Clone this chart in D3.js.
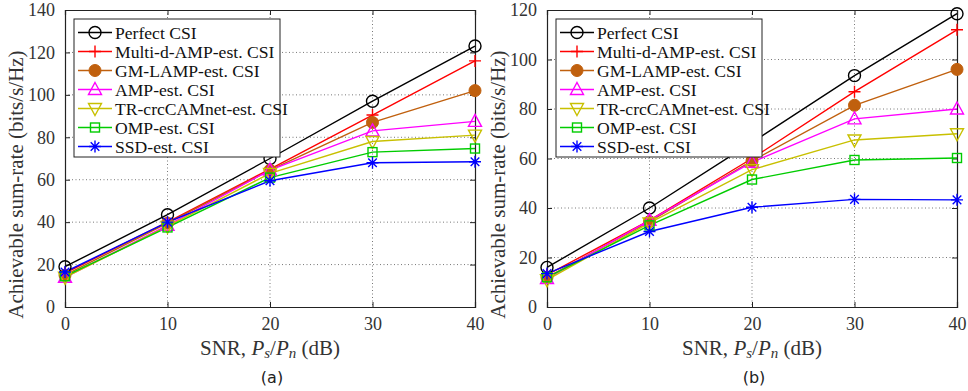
<!DOCTYPE html>
<html>
<head>
<meta charset="utf-8">
<script src="https://cdn.jsdelivr.net/npm/d3@7"></script>
<style>
  body { margin:0; background:#fff; }
  svg text { font-family: "Liberation Serif", serif; }
</style>
</head>
<body>
<svg id="chart" width="968" height="391"></svg>
<script>
// snr points (dB)
var snr = [0, 10, 20, 30, 40];

var seriesNames = ["Perfect CSI", "Multi-d-AMP-est. CSI", "GM-LAMP-est. CSI", "AMP-est. CSI",
                   "TR-crcCAMnet-est. CSI", "OMP-est. CSI", "SSD-est. CSI"];
var seriesColors = ["#000000", "#ff0000", "#c0600e", "#ff00ff", "#c8c000", "#00cc00", "#0000ff"];
var seriesMarkers = ["circle", "plus", "dot", "tri", "tridown", "square", "star"];

// panel (a)
var rateA = [
  [19, 43.5, 70, 97, 123],
  [16, 40, 65, 90.5, 116],
  [15, 39.5, 64.5, 87, 102],
  [14, 38.5, 64.5, 83, 87.5],
  [14, 38, 63, 78, 81],
  [14.5, 37.5, 61, 73, 74.7],
  [16.5, 40, 59.5, 68, 68.5]
];
// panel (b)
var rateB = [
  [16, 40, 66.5, 93.5, 118.5],
  [13, 35, 60, 87, 112],
  [12, 34.5, 59, 81.5, 96],
  [11.5, 35, 58.5, 76, 80],
  [11, 34, 55.5, 67.5, 70],
  [12, 33, 51.5, 59.4, 60.2],
  [13.5, 30.5, 40.3, 43.5, 43.3]
];

var yTicksA = [0, 20, 40, 60, 80, 100, 120, 140];
var yTicksB = [0, 20, 40, 60, 80, 100, 120];
var xTicks = [0, 10, 20, 30, 40];

var svg = d3.select("#chart");

function drawMarker(g, type, color){
    if(type=="circle"){
        g.append("circle").attr("r",6).attr("fill","none").attr("stroke",color).attr("stroke-width",1.4);
    } else if(type=="dot"){
        g.append("circle").attr("r",6).attr("fill",color).attr("stroke",color);
    } else if(type=="plus"){
        g.append("path").attr("d","M-6,0H6M0,-6V6").attr("stroke",color).attr("stroke-width",1.4);
    } else if(type=="tri"){
        g.append("path").attr("d","M0,-7L6.5,5H-6.5Z").attr("fill","none").attr("stroke",color).attr("stroke-width",1.4);
    } else if(type=="tridown"){
        g.append("path").attr("d","M0,7L6.5,-5H-6.5Z").attr("fill","none").attr("stroke",color).attr("stroke-width",1.4);
    } else if(type=="square"){
        g.append("rect").attr("x",-4.5).attr("y",-4.5).attr("width",9).attr("height",9)
            .attr("fill","none").attr("stroke",color).attr("stroke-width",1.4);
    } else if(type=="star"){
        g.append("path").attr("d","M-6,0H6M0,-6V6M-4.3,-4.3L4.3,4.3M-4.3,4.3L4.3,-4.3")
            .attr("stroke",color).attr("stroke-width",1.4);
    }
}

function DrawPanel(left, right, top, bottom, yMax, yTicks, data, caption){
    var x = d3.scaleLinear().domain([0,40]).range([left,right]);
    var y = d3.scaleLinear().domain([0,yMax]).range([bottom,top]);

    var g = svg.append("g");

    // grid
    g.selectAll("xgrid").data(xTicks.slice(1,-1)).enter().append("line")
        .attr("x1",d=>x(d)).attr("x2",d=>x(d)).attr("y1",top).attr("y2",bottom)
        .attr("stroke","#555").attr("stroke-width",0.8).attr("stroke-dasharray","1,2.5");
    g.selectAll("ygrid").data(yTicks.slice(1,-1)).enter().append("line")
        .attr("y1",d=>y(d)).attr("y2",d=>y(d)).attr("x1",left).attr("x2",right)
        .attr("stroke","#555").attr("stroke-width",0.8).attr("stroke-dasharray","1,2.5");

    // axes (inward ticks)
    var xAxis = d3.axisBottom(x).tickValues(xTicks).tickSize(-5).tickPadding(10);
    var yAxis = d3.axisLeft(y).tickValues(yTicks).tickSize(-5).tickPadding(10);
    var xAxisTop = d3.axisTop(x).tickValues(xTicks).tickSize(-5).tickFormat("");
    var yAxisRight = d3.axisRight(y).tickValues(yTicks).tickSize(-5).tickFormat("");

    [g.append("g").attr("transform","translate(0,"+bottom+")").call(xAxis),
     g.append("g").attr("transform","translate("+left+",0)").call(yAxis),
     g.append("g").attr("transform","translate(0,"+top+")").call(xAxisTop),
     g.append("g").attr("transform","translate("+right+",0)").call(yAxisRight)
    ].forEach(function(a){
        a.attr("font-family",null).attr("font-size",null);
        a.select(".domain").attr("stroke","#222").attr("stroke-width",1.2);
        a.selectAll(".tick line").attr("stroke","#222");
        a.selectAll("text").style("font-size","18px").attr("fill","#333")
            .style("font-family","'Liberation Serif', serif");
    });

    // lines + markers
    var line = d3.line().x((d,i)=>x(snr[i])).y(d=>y(d));
    data.forEach(function(vals, s){
        g.append("path").attr("d",line(vals)).attr("fill","none")
            .attr("stroke",seriesColors[s]).attr("stroke-width",1.4);
    });
    data.forEach(function(vals, s){
        vals.forEach(function(v,i){
            var m = g.append("g").attr("transform","translate("+x(snr[i])+","+y(v)+")");
            drawMarker(m, seriesMarkers[s], seriesColors[s]);
        });
    });

    // legend
    var lx = left+9, ly = top+9, lw = 206, lh = 138;
    g.append("rect").attr("x",lx).attr("y",ly).attr("width",lw).attr("height",lh)
        .attr("fill","#fff").attr("stroke","#222").attr("stroke-width",1);
    seriesNames.forEach(function(name, s){
        var yy = ly + 13.5 + s*19;
        g.append("line").attr("x1",lx+4).attr("x2",lx+38).attr("y1",yy).attr("y2",yy)
            .attr("stroke",seriesColors[s]).attr("stroke-width",1.4);
        var m = g.append("g").attr("transform","translate("+(lx+21)+","+yy+")");
        drawMarker(m, seriesMarkers[s], seriesColors[s]);
        g.append("text").attr("x",lx+41).attr("y",yy+6).style("font-size","17.6px").attr("fill","#111").text(name);
    });

    // axis labels
    var xl = g.append("text").attr("x",(left+right)/2).attr("y",bottom+48)
        .attr("text-anchor","middle").style("font-size","21px").attr("fill","#333");
    xl.append("tspan").text("SNR, ");
    xl.append("tspan").attr("font-style","italic").text("P");
    xl.append("tspan").attr("font-style","italic").style("font-size","15px").attr("dy",3).text("s");
    xl.append("tspan").attr("dy",-3).text("/");
    xl.append("tspan").attr("font-style","italic").text("P");
    xl.append("tspan").attr("font-style","italic").style("font-size","15px").attr("dy",3).text("n");
    xl.append("tspan").attr("dy",-3).text(" (dB)");

    g.append("text").attr("transform","translate("+(left-42)+","+((top+bottom)/2+26)+") rotate(-90)")
        .attr("text-anchor","middle").style("font-size","21px").attr("fill","#333")
        .text("Achievable sum-rate (bits/s/Hz)");

    g.append("text").attr("x",(left+right)/2+2).attr("y",bottom+76).attr("text-anchor","middle")
        .style("font-size","16px").style("font-family","'DejaVu Sans', sans-serif").attr("fill","#222")
        .text(caption);
}

DrawPanel(65, 475, 10, 307, 140, yTicksA, rateA, "(a)");
DrawPanel(547, 957, 10, 307, 120, yTicksB, rateB, "(b)");
</script>
</body>
</html>
